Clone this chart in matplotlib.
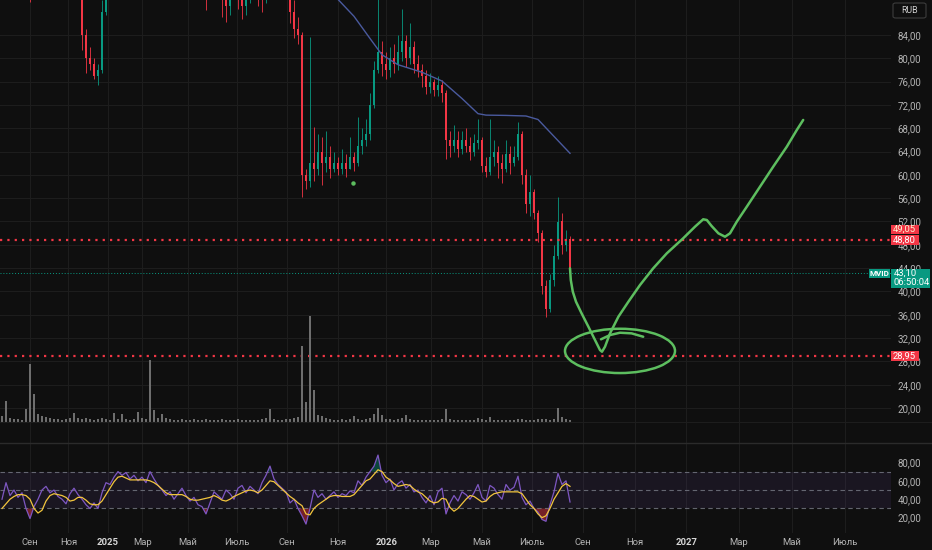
import numpy as np
import matplotlib
matplotlib.use("Agg")
import matplotlib.pyplot as plt
from matplotlib.patches import Rectangle, FancyBboxPatch, Ellipse
from matplotlib.lines import Line2D
from matplotlib.transforms import blended_transform_factory

plt.rcParams['font.family'] = ['Roboto', 'DejaVu Sans']

BG = '#0f0f0f'
GRID = '#1d1d1d'
UP = '#089981'
DOWN = '#f23645'
TXT = '#b4b4b4'
PEN = '#5dbe5f'

# MVID, one candle ~ 4 trading days
first_open = 101
closes = [100, 98, 96, 94, 93, 95, 96, 92, 94, 97, 99, 101, 100, 98, 97, 99, 98, 96, 95, 93,
          84, 80, 79, 77, 78, 88, 92, 94,
          95, 97, 99, 98, 100, 102, 101, 99, 100, 103, 105, 104, 102, 100, 101, 99, 98, 100, 102, 101, 99, 97, 95,
          92, 94, 96, 93, 90, 89, 92, 94, 91, 89, 91, 93, 95, 92, 90, 93, 96, 98, 97, 95, 92, 88, 85, 84,
          60, 59, 62, 61, 64, 62, 63, 61, 62, 61, 62, 61, 63, 62, 65, 66,
          67, 72, 78, 81, 79, 78, 80, 79, 81, 83, 80, 82, 79, 78, 77, 75, 76, 74.5, 75.5, 74,
          66, 65, 66, 64.5, 66, 65, 64, 65.5, 66, 61.5, 60.5, 63, 64, 62, 61, 63.5, 62, 63, 67, 60,
          55, 57, 53.5, 50, 41, 37, 42, 46, 52, 48, 49.05, 43.1]
highs = [102, 101, 99, 97, 95, 96, 98, 96, 95, 98, 100, 102, 103, 101, 99, 100, 100, 99, 97, 96,
         94, 85, 82, 80, 79, 90, 95, 96,
         96.5, 98.5, 100.5, 100.5, 101.5, 103.5, 103.5, 102.5, 101.5, 104.5, 106.5, 106.5, 105.5, 103.5,
         102.5, 102.5, 100.5, 101.5, 103.5, 103.5, 102.5, 100.5, 98.5,
         96, 95, 97, 97, 94, 92, 93, 96, 95, 92, 92, 95, 97, 96, 93, 94, 97, 100, 99, 98, 96, 93, 90, 87,
         84.5, 61, 83.7, 68.2, 67, 66.5, 67.5, 65, 64, 63, 64.5, 63.5, 66.5, 64, 70, 68,
         69.5, 74, 79.5, 90.5, 83, 81, 82, 82.5, 84, 88.5, 84, 86, 83, 80.5, 79, 78, 77.5, 76.5, 77, 76.3,
         74.5, 67.5, 68.5, 67.5, 67.5, 68, 66.5, 67, 69.5, 66.5, 63, 69.5, 66, 65, 63.5, 66, 65, 65, 69, 67.5,
         61, 60, 57.5, 54, 50.5, 42, 43, 48, 56.2, 53.5, 50.5, 49.5]
lows = [98.5, 97, 95, 93, 92, 92, 94, 89.6, 91, 93, 96, 98, 99, 97, 96, 96, 97, 95, 94, 91,
        81.5, 77.5, 78, 76.5, 75.5, 77.5, 87.5, 90.5,
        92.5, 93.5, 95.5, 96.5, 96.5, 98.5, 99.5, 97.5, 97.5, 98.5, 101.5, 102.5, 100.5, 98.5,
        98.5, 97.5, 96.5, 96.5, 98.5, 99.5, 97.5, 95.5, 93.5,
        88.3, 90.5, 92, 91, 87, 86.3, 87.5, 91, 88.5, 86.8, 87.5, 89.5, 92, 89, 88, 89.5, 92, 95, 94, 93,
        90.5, 86, 83.5, 82.5,
        56.2, 57.5, 58, 59, 60, 58.2, 60.5, 59.5, 60.5, 60, 60.2, 59.7, 61, 60.6, 61.5, 63.5,
        65, 66, 71.5, 77.5, 77, 76.5, 76.8, 77.5, 78, 79.5, 78.5, 79, 77.5, 76.8, 75, 73.8, 74, 73.5, 73.5, 72.5,
        62.8, 63, 64, 63, 63.5, 64, 62.5, 63.2, 64.5, 60.5, 59.7, 60, 61.5, 59.5, 58.6, 60.5, 60.2, 61.5, 62.5, 58.5,
        53.5, 53, 52.5, 48.5, 39.5, 35.7, 36.5, 41, 45.5, 46.5, 47, 42.8]
volume = [0.6, 2.1, 0.4, 0.3, 0.3, 0.2, 1.3, 5.8, 2.8, 0.8, 0.6, 0.5, 0.4, 0.3, 0.3, 0.2, 0.3, 0.4, 0.9, 0.4,
          0.3, 0.4, 0.3, 0.2, 0.3, 0.4, 0.3, 0.2, 0.9, 0.3, 0.8, 0.3, 0.2, 0.3, 1.0, 0.4, 0.3, 6.2, 1.2, 0.4,
          0.8, 0.4, 0.3, 0.2, 0.2, 0.3, 0.2, 0.2, 0.3, 0.2, 0.2, 0.3, 0.2, 0.2, 0.2, 0.3, 0.2, 0.2, 0.2, 0.3,
          0.2, 0.2, 0.2, 0.2, 0.2, 0.3, 0.4, 1.3, 0.3, 0.2, 0.2, 0.3, 0.3, 0.4, 0.5, 7.6, 2.0, 10.6, 3.2, 0.7,
          0.6, 0.4, 0.3, 0.2, 0.2, 0.3, 0.2, 0.3, 0.6, 0.3, 0.2, 0.3, 0.4, 0.8, 1.4, 0.7, 0.3, 0.3, 0.2, 0.3,
          0.4, 0.7, 0.3, 0.2, 0.2, 0.2, 0.2, 0.2, 0.2, 0.2, 0.3, 1.3, 0.3, 0.2, 0.2, 0.2, 0.2, 0.2, 0.2, 0.4,
          0.3, 0.2, 0.5, 0.2, 0.2, 0.2, 0.2, 0.2, 0.2, 0.3, 0.3, 0.2, 0.2, 0.2, 0.3, 0.3, 0.3, 0.2, 0.3, 1.4,
          0.5, 0.3, 0.2]
rsi = [40, 58, 44, 50, 42, 47, 30, 19, 32, 40, 50, 54, 47, 50, 43, 40, 35, 46, 52, 45,
       40, 34, 30, 36, 30, 47, 58, 56, 64, 70, 66, 69, 62, 66, 60, 64, 58, 70, 62, 55,
       50, 44, 48, 40, 46, 52, 44, 38, 42, 34, 32, 24, 36, 48, 44, 40, 50, 46, 40, 52,
       55, 47, 54, 50, 46, 58, 66, 76, 62, 56, 52, 48, 36, 40, 30, 22, 13, 30, 50, 42,
       46, 40, 44, 48, 42, 46, 44, 49, 47, 60, 55, 64, 70, 76, 88, 66, 58, 62, 50, 57,
       60, 52, 56, 48, 50, 42, 36, 44, 34, 48, 52, 24, 36, 44, 38, 48, 45, 40, 47, 56,
       42, 38, 55, 52, 45, 40, 56, 50, 53, 65, 42, 34, 38, 30, 26, 18, 16, 34, 48, 68,
       56, 60, 37]
rsi_ma = [30, 35, 40, 43, 45, 45, 44, 40, 30, 25, 28, 38, 44, 46, 45, 44, 42, 38, 39, 42,
          42, 39, 35, 34, 34, 38, 45, 52, 59, 64, 65, 63, 61, 61, 61, 61, 61, 60, 58, 55,
          51, 47, 45, 45, 45, 45, 43, 40, 39, 39, 40, 41, 42, 44, 42, 39, 38, 40, 43, 45,
          47, 49, 50, 49, 47, 50, 55, 60, 59, 55, 51, 47, 43, 40, 36, 33, 24, 23, 30, 34,
          37, 40, 43, 44, 44, 43, 43, 43, 45, 50, 55, 60, 62, 67, 72, 70, 64, 61, 57, 54,
          55, 56, 55, 51, 48, 46, 42, 38, 36, 37, 41, 40, 31, 27, 30, 35, 40, 44, 43, 40,
          37, 38, 43, 46, 47, 48, 48, 48, 48, 48, 46, 40, 34, 30, 24, 20, 22, 30, 40, 47,
          54, 57, 54]

# slow moving average (blue)
ma_idx = [82, 84, 88, 92, 95, 99, 105, 110, 115, 119, 121, 126, 131, 134, 138, 142]
ma_val = [91.5, 90.1, 87.2, 83.4, 80.6, 78.9, 77.6, 76.1, 73.1, 70.5, 70.25, 70.2, 70.1, 69.5, 66.6, 63.7]

month_pos = [7.0, 16.6, 26.4, 35.1, 46.4, 58.75, 71.25, 84.0, 96.1, 107.25, 119.9, 132.5,
             145.25, 158.25, 171.1, 184.25, 197.5, 210.75]
month_labels = ['Сен', 'Ноя', '2025', 'Мар', 'Май', 'Июль', 'Сен', 'Ноя', '2026', 'Мар', 'Май', 'Июль',
                'Сен', 'Ноя', '2027', 'Мар', 'Май', 'Июль']
price_ticks = list(range(20, 88, 4))
rsi_ticks = [20, 40, 60, 80]

levels = [48.80, 28.95]
last_price = 43.10
upper_label = 49.05
countdown = '06:50:04'
ticker = 'MVID'

# hand-drawn forecast (x in candle index, y in price)
pen_x = [142.0, 142.2, 142.7, 143.5, 144.9, 146.6, 148.25, 149.5, 150.0, 150.75, 152.0, 154.1, 156.6,
         159.5, 162.8, 166.2, 170.3, 173.25, 175.3, 176.2, 177.4, 179.1, 180.75, 182.0, 183.7, 186.2,
         189.5, 192.8, 196.2, 198.7, 200.3]
pen_y = [43.97, 41.96, 39.96, 38.24, 36.24, 33.95, 31.67, 29.95, 29.66, 30.52, 32.81, 35.67, 38.24,
         41.1, 43.97, 46.54, 49.12, 51.11, 52.38, 52.26, 51.23, 49.97, 49.39, 49.97, 51.97, 54.54,
         57.97, 61.4, 64.83, 67.7, 69.42]
hook_x = [149.75, 152.0, 154.5, 157.4, 160.3]
hook_y = [31.79, 32.52, 32.92, 32.81, 32.23]
loop_center = (154.5, 29.8)
loop_size = (27.5, 7.6)
dot = (87.75, 58.6)

n = len(closes)
x = np.arange(n)
opens = np.array([first_open] + closes[:-1])
c = np.array(closes)
colors = [UP if cc >= oo else DOWN for oo, cc in zip(opens, c)]

W, H = 932, 550
XL = (-0.5, 222.25)
right = 891 / W

fig = plt.figure(figsize=(W / 100, H / 100), dpi=100, facecolor=BG)
ax = fig.add_axes([0, 1 - 443 / H, right, 443 / H])
axr = fig.add_axes([0, 1 - 533 / H, right, 90 / H])
axv = fig.add_axes([0, 1 - 422 / H, right, 122 / H])

for a in (ax, axr, axv):
    a.set_facecolor(BG)
    a.set_xlim(*XL)
    for s in a.spines.values():
        s.set_visible(False)
axv.patch.set_alpha(0)
axv.axis('off')

# main pane
ax.set_ylim(14.0, 90.0)
ax.yaxis.tick_right()
ax.set_yticks(price_ticks)
ax.set_yticklabels([f"{v:.2f}".replace('.', ',') for v in price_ticks])
ax.tick_params(axis='y', length=0, pad=4.5, labelsize=7, colors=TXT)
ax.set_xticks(month_pos)
ax.tick_params(axis='x', length=0, labelbottom=False)
ax.grid(True, color=GRID, lw=0.8)
ax.set_axisbelow(True)

ax.vlines(x, lows, highs, colors=colors, lw=0.6, zorder=2)
ax.bar(x, np.maximum(np.abs(c - opens), 0.15), bottom=np.minimum(c, opens), width=0.5,
       color=colors, lw=0, zorder=3)
ax.plot(ma_idx, ma_val, color='#4a5a9e', lw=1.0, zorder=4)

for lv in levels:
    ax.axhline(lv, color=DOWN, lw=1.6, ls=(0, (1, 2.3)), zorder=4)
ax.axhline(last_price, color=UP, lw=0.7, ls=(0, (1, 2)), zorder=4)

ax.plot(pen_x, pen_y, color=PEN, lw=1.8, solid_capstyle='round', solid_joinstyle='round', zorder=6)
ax.plot(hook_x, hook_y, color=PEN, lw=1.8, solid_capstyle='round', zorder=6)
ax.add_patch(Ellipse(loop_center, loop_size[0], loop_size[1], fill=False, ec=PEN, lw=1.8, zorder=6))
ax.plot(*dot, 'o', color=PEN, ms=2.2, zorder=6)

# volume
axv.bar(x, volume, width=0.35, color='#6e6e6e', lw=0)
axv.set_ylim(0, 12.2)

# RSI pane
axr.set_ylim(3.3, 101.1)
axr.axhspan(30, 70, color='#7e57c2', alpha=0.1, lw=0)
for lv in (30, 50, 70):
    axr.axhline(lv, color='#787b86', lw=0.8, ls=(0, (4, 3)), alpha=0.8)
r = np.array(rsi, dtype=float)
axr.fill_between(np.arange(len(r)), r, 70, where=r > 70, interpolate=True, color=UP, alpha=0.4, lw=0)
axr.fill_between(np.arange(len(r)), r, 30, where=r < 30, interpolate=True, color=DOWN, alpha=0.45, lw=0)
axr.plot(np.arange(len(r)), r, color='#7e57c2', lw=0.9)
axr.plot(np.arange(len(rsi_ma)), rsi_ma, color='#f2c53d', lw=0.9)
axr.yaxis.tick_right()
axr.set_yticks(rsi_ticks)
axr.set_yticklabels([f"{v:.2f}".replace('.', ',') for v in rsi_ticks])
axr.tick_params(axis='y', length=0, pad=4.5, labelsize=7, colors=TXT)
axr.set_xticks(month_pos)
axr.set_xticklabels(month_labels)
axr.tick_params(axis='x', length=0, pad=3.5, labelsize=6.8, colors=TXT)
for lab in axr.get_xticklabels():
    if lab.get_text().isdigit():
        lab.set_color('#d6d6d6')
        lab.set_fontweight('bold')
axr.grid(True, axis='x', color=GRID, lw=0.8)
axr.set_axisbelow(True)

# pane separators
fig.add_artist(Line2D([0, 1], [1 - 422 / H] * 2, color='#1d1d1d', lw=0.8))
fig.add_artist(Line2D([0, 1], [1 - 443 / H] * 2, color='#2b2b2b', lw=1.0))

# price-scale labels
tr = blended_transform_factory(fig.transFigure, ax.transData)
bh = 1.7
def tag(y0, h, x0, w, fc):
    ax.add_patch(Rectangle((x0 / W, y0), w / W, h, transform=tr, fc=fc, ec='none',
                           clip_on=False, zorder=10))

tag(levels[0] - bh / 2, bh, 891, 27.5, DOWN)
tag(levels[0] + bh / 2 + 0.12, bh, 891, 27.5, DOWN)
ax.text(904.5 / W, levels[0], f"{levels[0]:.2f}".replace('.', ','), transform=tr, ha='center',
        va='center', fontsize=6.8, color='white', clip_on=False, zorder=11)
ax.text(904.5 / W, levels[0] + bh + 0.12, f"{upper_label:.2f}".replace('.', ','), transform=tr,
        ha='center', va='center', fontsize=6.8, color='#fff2d0', clip_on=False, zorder=11)
tag(levels[1] - bh / 2, bh, 891, 27.5, DOWN)
ax.text(904.5 / W, levels[1], f"{levels[1]:.2f}".replace('.', ','), transform=tr, ha='center',
        va='center', fontsize=6.8, color='white', clip_on=False, zorder=11)

tag(last_price - 2.45, 3.25, 891, 38.5, UP)
ax.text(894 / W, last_price, f"{last_price:.2f}".replace('.', ','), transform=tr, ha='left',
        va='center', fontsize=6.8, color='white', clip_on=False, zorder=11)
ax.text(894 / W, last_price - 1.6, countdown, transform=tr, ha='left', va='center',
        fontsize=6.8, color='white', clip_on=False, zorder=11)
tag(last_price - 0.75, 1.45, 869, 20.5, UP)
ax.text(879.5 / W, last_price - 0.03, ticker, transform=tr, ha='center', va='center',
        fontsize=5.8, fontweight='bold', color='white', clip_on=False, zorder=11)

fig.add_artist(FancyBboxPatch((893 / W, 1 - 18 / H), 33 / W, 15 / H,
                              boxstyle='round,pad=0,rounding_size=0.003',
                              transform=fig.transFigure, fc=BG, ec='#3c3c3c', lw=0.8))
fig.text(909.5 / W, 1 - 10.5 / H, 'RUB', ha='center', va='center', fontsize=6.3, color='#d0d0d0')

fig.savefig('out.png', dpi=100, facecolor=BG)
